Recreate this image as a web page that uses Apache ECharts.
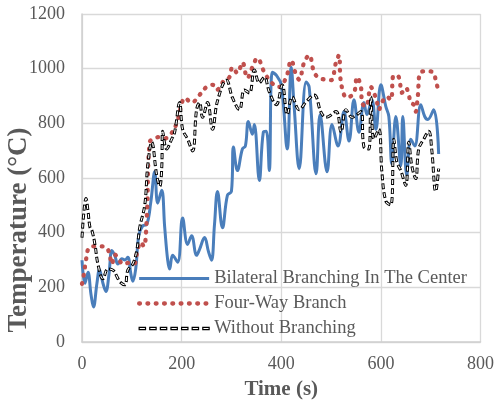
<!DOCTYPE html>
<html>
<head>
<meta charset="utf-8">
<script src="https://cdn.jsdelivr.net/npm/echarts@6/dist/echarts.min.js"></script>
<style>
  html, body { margin: 0; padding: 0; background: #fff; }
  #chart { width: 497px; height: 405px; }
</style>
</head>
<body>
<div id="chart"></div>
<script>
// Temperature histories, [time (s), temperature (°C)]
const bilateralCenter = [
  [0,299],[6,215],[12,255],[18,175],[23,128],[30,215],[35,265],[42,215],[48,185],[54,245],
  [60,335],[66,315],[72,285],[80,305],[86,300],[92,310],[98,250],[102,222],[108,270],[114,390],
  [122,425],[130,430],[138,510],[146,623],[152,508],[160,555],[166,420],[172,300],[176,267],[182,317],
  [192,292],[202,454],[212,357],[220,389],[230,317],[236,339],[246,382],[254,330],[260,299],[266,430],
  [272,551],[282,418],[292,537],[300,551],[304,713],[312,627],[322,706],[328,717],[334,807],[342,760],
  [346,796],[356,591],[364,767],[370,771],[376,627],[382,987],[390,976],[400,941],[412,706],[420,1005],
  [426,858],[436,634],[450,951],[456,933],[470,616],[478,832],[492,623],[502,796],[514,717],[526,843],
  [536,735],[546,886],[556,767],[566,876],[572,832],[582,886],[590,778],[600,941],[610,861],[616,825],
  [622,652],[630,825],[640,645],[644,825],[652,609],[660,742],[668,717],[680,868],[688,825],[694,814],
  [706,850],[716,688]
];

const fourWay = [
  [0,213],[4,250],[8,300],[14,345],[24,350],[36,350],[46,348],[54,330],[60,285],[66,320],
  [74,300],[84,285],[94,290],[104,285],[112,340],[118,365],[124,350],[130,454],[136,731],[146,745],
  [156,750],[166,745],[176,755],[190,800],[200,870],[206,893],[220,876],[236,904],[250,933],[262,941],
  [270,922],[286,958],[296,969],[302,1005],[312,984],[322,1023],[332,966],[342,1005],[352,1038],[366,987],
  [380,950],[396,933],[410,969],[420,1030],[430,976],[436,960],[446,1023],[456,1049],[466,987],[476,966],
  [490,960],[500,958],[510,1023],[516,1049],[520,948],[532,894],[546,912],[552,969],[560,933],[562,876],
  [570,861],[580,933],[586,912],[592,879],[596,850],[602,876],[612,897],[620,886],[626,976],[636,969],
  [642,912],[650,930],[656,904],[660,876],[666,868],[670,843],[674,897],[680,987],[694,991],[706,984],
  [710,958],[714,930]
];

const withoutBranching = [
  [0,382],[4,480],[8,525],[12,479],[16,420],[20,407],[26,357],[32,285],[42,231],[52,267],
  [62,263],[70,240],[76,220],[86,209],[92,263],[102,285],[110,335],[116,420],[126,501],[132,645],
  [140,731],[150,609],[156,570],[160,634],[162,771],[170,706],[180,742],[186,768],[196,876],[202,778],
  [212,742],[222,699],[230,850],[236,876],[242,822],[252,876],[262,778],[272,882],[290,958],[302,894],
  [316,850],[326,922],[336,911],[346,995],[356,948],[366,969],[376,915],[390,868],[402,940],[412,832],
  [422,897],[436,850],[450,879],[466,904],[480,840],[490,822],[510,843],[520,768],[530,850],[542,822],
  [560,843],[566,714],[576,706],[580,897],[586,742],[596,778],[602,623],[610,515],[620,501],[626,742],
  [632,659],[640,627],[650,573],[656,731],[662,645],[670,598],[676,706],[686,742],[696,771],[702,706],
  [710,551],[716,634]
];

const seriesNames = ['Bilateral Branching In The Center', 'Four-Way Branch', 'Without Branching'];
const xTicks = { min: 0, max: 800, interval: 200 };
const yTicks = { min: 0, max: 1200, interval: 200 };

const textColor = '#595959';
const gridColor = '#d9d9d9';
const serif = '"Liberation Serif", "Times New Roman", serif';

const blueLine = { color: '#4a7ebb', width: 3 };
const redDots = { color: '#c0504d', width: 4.3, type: [0.8, 7.5], cap: 'round' };

// hollow dash glyphs for the legend sample of the dashed series
const hollowDashIcon = 'path://M0,0h6v2h-6Z M10,0h6v2h-6Z M20,0h6v2h-6Z M30,0h6v2h-6Z M40,0h6v2h-6Z M50,0h6v2h-6Z M60,0h6v2h-6Z';

const chart = echarts.init(document.getElementById('chart'), null, { renderer: 'canvas' });

chart.setOption({
  animation: false,
  backgroundColor: '#fff',
  grid: { left: 82, right: 15, top: 14, bottom: 59, containLabel: false },
  xAxis: {
    type: 'value',
    min: xTicks.min, max: xTicks.max, interval: xTicks.interval,
    name: 'Time (s)',
    nameLocation: 'middle',
    nameGap: 37,
    nameTextStyle: { fontFamily: serif, fontWeight: 'bold', fontSize: 21, color: textColor },
    axisLine: { show: true, lineStyle: { color: '#cfcfcf', width: 1.5 } },
    axisTick: { show: false },
    axisLabel: { fontFamily: serif, fontSize: 18, color: textColor, margin: 13, formatter: v => String(v) },
    splitLine: { show: true, lineStyle: { color: gridColor, width: 1.3 } }
  },
  yAxis: {
    type: 'value',
    min: yTicks.min, max: yTicks.max, interval: yTicks.interval,
    axisLine: { show: true, lineStyle: { color: '#cfcfcf', width: 1.5 } },
    axisTick: { show: false },
    axisLabel: { fontFamily: serif, fontSize: 18, color: textColor, margin: 17, formatter: v => String(v) },
    splitLine: { show: true, lineStyle: { color: gridColor, width: 1.3 } }
  },
  graphic: [{
    type: 'text',
    x: 19, y: 230,
    rotation: Math.PI / 2,
    silent: true,
    style: {
      text: 'Temperature (\u00B0C)',
      font: 'bold 27px ' + serif,
      fill: textColor,
      align: 'center', verticalAlign: 'middle',
      textAlign: 'center', textVerticalAlign: 'middle'
    }
  }],
  legend: {
    orient: 'vertical',
    left: 132, top: 264,
    itemWidth: 70, itemHeight: 12, itemGap: 6,
    itemStyle: { opacity: 0 },
    textStyle: { fontFamily: serif, fontSize: 18.5, color: textColor, lineHeight: 19 },
    data: [
      { name: seriesNames[0], lineStyle: { width: blueLine.width } },
      { name: seriesNames[1], lineStyle: { width: redDots.width } },
      { name: seriesNames[2], icon: hollowDashIcon,
        itemStyle: { color: '#ffffff', borderColor: '#000000', borderWidth: 1.2, opacity: 1 } }
    ]
  },
  series: [
    {
      name: seriesNames[0],
      type: 'line',
      data: bilateralCenter,
      smooth: 0.4,
      showSymbol: false, symbol: 'none',
      lineStyle: blueLine,
      itemStyle: { color: blueLine.color }
    },
    {
      name: seriesNames[1],
      type: 'line',
      data: fourWay,
      smooth: 0.4,
      showSymbol: false, symbol: 'none',
      lineStyle: redDots,
      itemStyle: { color: redDots.color }
    },
    {
      name: seriesNames[2],
      type: 'line',
      data: withoutBranching,
      smooth: 0.4,
      showSymbol: false, symbol: 'none',
      lineStyle: { color: '#000000', width: 3, type: [6, 3] },
      itemStyle: { color: '#000000' }
    },
    {
      // white core that hollows out each dash of the series above
      id: 'withoutBranchingCore',
      type: 'line',
      data: withoutBranching,
      smooth: 0.4,
      silent: true,
      showSymbol: false, symbol: 'none',
      lineStyle: { color: '#ffffff', width: 1.1, type: [4, 5], dashOffset: -1 },
      itemStyle: { color: '#ffffff' }
    }
  ]
});
</script>
</body>
</html>
